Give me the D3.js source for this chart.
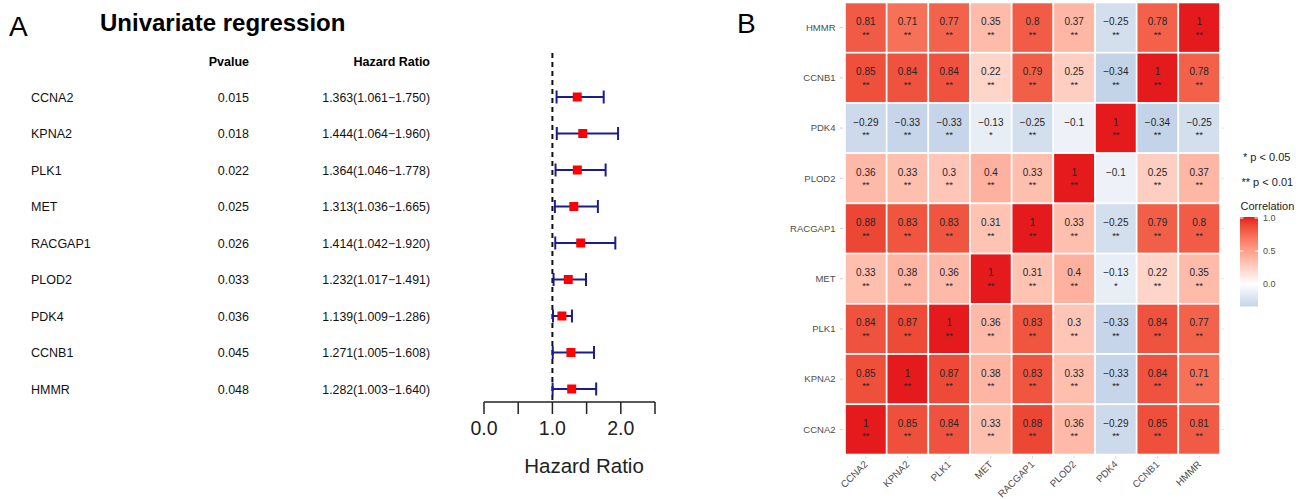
<!DOCTYPE html>
<html>
<head>
<meta charset="utf-8">
<script src="https://cdn.jsdelivr.net/npm/d3@7/dist/d3.min.js"></script>
<style>
  html, body { margin: 0; padding: 0; background: #fff; }
  svg { display: block; font-family: "Liberation Sans", Arial, Helvetica, sans-serif; }
</style>
</head>
<body>
<svg id="chart" width="1308" height="499"></svg>
<script>
// ---------- Panel A data ----------
const genes = ["CCNA2", "KPNA2", "PLK1", "MET", "RACGAP1", "PLOD2", "PDK4", "CCNB1", "HMMR"];
const pvalues = ["0.015", "0.018", "0.022", "0.025", "0.026", "0.033", "0.036", "0.045", "0.048"];
const hr = [1.363, 1.444, 1.364, 1.313, 1.414, 1.232, 1.139, 1.271, 1.282];
const hrLow = [1.061, 1.064, 1.046, 1.036, 1.042, 1.017, 1.009, 1.005, 1.003];
const hrHigh = [1.750, 1.960, 1.778, 1.665, 1.920, 1.491, 1.286, 1.608, 1.640];
const hrTicks = [0, 0.5, 1, 1.5, 2, 2.5];
const hrTickLabels = ["0.0", "", "1.0", "", "2.0", ""];

// ---------- Panel B data ----------
const corrCols = ["CCNA2", "KPNA2", "PLK1", "MET", "RACGAP1", "PLOD2", "PDK4", "CCNB1", "HMMR"];
const corrRows = ["HMMR", "CCNB1", "PDK4", "PLOD2", "RACGAP1", "MET", "PLK1", "KPNA2", "CCNA2"]; // top to bottom
const corrValues = [
  [0.81, 0.71, 0.77, 0.35, 0.8, 0.37, -0.25, 0.78, 1],
  [0.85, 0.84, 0.84, 0.22, 0.79, 0.25, -0.34, 1, 0.78],
  [-0.29, -0.33, -0.33, -0.13, -0.25, -0.1, 1, -0.34, -0.25],
  [0.36, 0.33, 0.3, 0.4, 0.33, 1, -0.1, 0.25, 0.37],
  [0.88, 0.83, 0.83, 0.31, 1, 0.33, -0.25, 0.79, 0.8],
  [0.33, 0.38, 0.36, 1, 0.31, 0.4, -0.13, 0.22, 0.35],
  [0.84, 0.87, 1, 0.36, 0.83, 0.3, -0.33, 0.84, 0.77],
  [0.85, 1, 0.87, 0.38, 0.83, 0.33, -0.33, 0.84, 0.71],
  [1, 0.85, 0.84, 0.33, 0.88, 0.36, -0.29, 0.85, 0.81]
];
const corrSig = [
  ["**", "**", "**", "**", "**", "**", "**", "**", "**"],
  ["**", "**", "**", "**", "**", "**", "**", "**", "**"],
  ["**", "**", "**", "*", "**", "", "**", "**", "**"],
  ["**", "**", "**", "**", "**", "**", "", "**", "**"],
  ["**", "**", "**", "**", "**", "**", "**", "**", "**"],
  ["**", "**", "**", "**", "**", "**", "*", "**", "**"],
  ["**", "**", "**", "**", "**", "**", "**", "**", "**"],
  ["**", "**", "**", "**", "**", "**", "**", "**", "**"],
  ["**", "**", "**", "**", "**", "**", "**", "**", "**"]
];
const legendTicks = [0, 0.5, 1];
const sigNotes = ["* p < 0.05", "** p < 0.01"];

const svg = d3.select("#chart");
const fmtNum = v => (v < 0 ? "\u2212" : "") + String(Math.abs(v));

// ================= Panel A =================
const gA = svg.append("g");
gA.append("text").attr("x", 9).attr("y", 36).attr("font-size", 28).text("A");
gA.append("text").attr("x", 100).attr("y", 30.5).attr("font-size", 24).attr("font-weight", "bold").text("Univariate regression");

const yA = d3.scalePoint().domain(genes).range([97, 389]);
const xA = d3.scaleLinear().domain([0, 2.5]).range([484, 655]);

gA.append("text").attr("x", 249).attr("y", 65.5).attr("text-anchor", "end")
  .attr("font-size", 12.5).attr("font-weight", "bold").text("Pvalue");
gA.append("text").attr("x", 430).attr("y", 65.5).attr("text-anchor", "end")
  .attr("font-size", 12.5).attr("font-weight", "bold").text("Hazard Ratio");

genes.forEach((g, i) => {
  const y = yA(g) + 4.5;
  gA.append("text").attr("x", 31).attr("y", y).attr("font-size", 12.5).attr("fill", "#111").text(g);
  gA.append("text").attr("x", 249).attr("y", y).attr("text-anchor", "end").attr("font-size", 12.5).attr("fill", "#111").text(pvalues[i]);
  gA.append("text").attr("x", 430).attr("y", y).attr("text-anchor", "end").attr("font-size", 12.3).attr("fill", "#111")
    .text(hr[i].toFixed(3) + "(" + hrLow[i].toFixed(3) + "\u2212" + hrHigh[i].toFixed(3) + ")");
});

// reference dashed line
gA.append("line").attr("x1", xA(1)).attr("x2", xA(1)).attr("y1", 53).attr("y2", 401)
  .attr("stroke", "#111").attr("stroke-width", 2).attr("stroke-dasharray", "5,4");

const navy = "#1c1c8f";
genes.forEach((g, i) => {
  const y = yA(g);
  gA.append("line").attr("x1", xA(hrLow[i])).attr("x2", xA(hrHigh[i])).attr("y1", y).attr("y2", y)
    .attr("stroke", navy).attr("stroke-width", 2);
  [hrLow[i], hrHigh[i]].forEach(v => {
    gA.append("line").attr("x1", xA(v)).attr("x2", xA(v)).attr("y1", y - 6.5).attr("y2", y + 6.5)
      .attr("stroke", navy).attr("stroke-width", 2);
  });
  gA.append("rect").attr("x", xA(hr[i]) - 4.5).attr("y", y - 4.5).attr("width", 9).attr("height", 9).attr("fill", "#ff0000");
});

// axis
const axA = gA.append("g").attr("transform", "translate(0,402)");
axA.append("line").attr("x1", xA(0)).attr("x2", xA(2.5)).attr("stroke", "#222").attr("stroke-width", 1.5);
hrTicks.forEach((t, i) => {
  axA.append("line").attr("x1", xA(t)).attr("x2", xA(t)).attr("y1", 0).attr("y2", 12).attr("stroke", "#222").attr("stroke-width", 1.5);
  if (hrTickLabels[i]) axA.append("text").attr("x", xA(t)).attr("y", 33).attr("text-anchor", "middle")
    .attr("font-size", 19.5).attr("fill", "#222").text(hrTickLabels[i]);
});
gA.append("text").attr("x", 584).attr("y", 473).attr("text-anchor", "middle").attr("font-size", 20.5).attr("fill", "#222").text("Hazard Ratio");

// ================= Panel B =================
const gB = svg.append("g");
gB.append("text").attr("x", 737).attr("y", 33).attr("font-size", 28).text("B");

const xB = d3.scaleBand().domain(corrCols).range([845, 1220]);
const yB = d3.scaleBand().domain(corrRows).range([2.5, 454.5]);
const color = d3.scaleLinear().domain([-1, 0, 1]).range(["#4986bc", "#ffffff", "#e41a1c"]).interpolate(d3.interpolateLab);

corrRows.forEach((r, i) => {
  corrCols.forEach((c, j) => {
    const v = corrValues[i][j];
    const x = xB(c), y = yB(r);
    gB.append("rect").attr("x", x).attr("y", y).attr("width", xB.bandwidth()).attr("height", yB.bandwidth())
      .attr("fill", color(v)).attr("stroke", "#fff").attr("stroke-width", 1.6);
    const cx = x + xB.bandwidth() / 2, cy = y + yB.bandwidth() / 2;
    gB.append("text").attr("x", cx).attr("y", cy - 2.5).attr("text-anchor", "middle")
      .attr("font-size", 10).attr("fill", "#262626").text(fmtNum(v));
    if (corrSig[i][j]) gB.append("text").attr("x", cx).attr("y", cy + 10).attr("text-anchor", "middle")
      .attr("font-size", 9.5).attr("fill", "#262626").text(corrSig[i][j]);
  });
});

// y axis labels
corrRows.forEach(r => {
  const cy = yB(r) + yB.bandwidth() / 2;
  gB.append("line").attr("x1", 840).attr("x2", 843).attr("y1", cy).attr("y2", cy).attr("stroke", "#cfcfcf").attr("stroke-width", 1);
  gB.append("text").attr("x", 835.5).attr("y", cy + 3.3).attr("text-anchor", "end").attr("font-size", 9.5).attr("fill", "#4d4d4d").text(r);
});
// right side faint ticks
corrRows.forEach(r => {
  const cy = yB(r) + yB.bandwidth() / 2;
  gB.append("line").attr("x1", 1221).attr("x2", 1224).attr("y1", cy).attr("y2", cy).attr("stroke", "#e6e6e6").attr("stroke-width", 1);
});
// x axis labels
corrCols.forEach(c => {
  const cx = xB(c) + xB.bandwidth() / 2;
  gB.append("line").attr("x1", cx).attr("x2", cx).attr("y1", 456).attr("y2", 458.5).attr("stroke", "#d9d9d9").attr("stroke-width", 1);
  gB.append("text").attr("transform", `translate(${cx + 2.5},${465}) rotate(-45)`).attr("text-anchor", "end")
    .attr("font-size", 9.8).attr("fill", "#4d4d4d").text(c);
});

// significance notes
gB.append("text").attr("x", 1243).attr("y", 161).attr("font-size", 11).attr("fill", "#222").text(sigNotes[0]);
gB.append("text").attr("x", 1241.5).attr("y", 186).attr("font-size", 11).attr("fill", "#222").text(sigNotes[1]);

// color legend
gB.append("text").attr("x", 1240.5).attr("y", 209.5).attr("font-size", 11).attr("fill", "#222").text("Correlation");
const yL = d3.scaleLinear().domain([0, 1]).range([284, 218]);
const vmin = d3.min(corrValues.flat()), vmax = d3.max(corrValues.flat());
const defs = svg.append("defs");
const grad = defs.append("linearGradient").attr("id", "corrGrad").attr("x1", 0).attr("x2", 0).attr("y1", 1).attr("y2", 0);
d3.range(0, 1.0001, 0.05).forEach(t => {
  const v = vmin + t * (vmax - vmin);
  grad.append("stop").attr("offset", t).attr("stop-color", color(v));
});
gB.append("rect").attr("x", 1240).attr("y", yL(vmax) - 1).attr("width", 18).attr("height", yL(vmin) - yL(vmax) + 1)
  .attr("fill", "url(#corrGrad)");
legendTicks.forEach(t => {
  gB.append("line").attr("x1", 1240).attr("x2", 1243.5).attr("y1", yL(t)).attr("y2", yL(t)).attr("stroke", "#fff").attr("stroke-width", 1);
  gB.append("line").attr("x1", 1254.5).attr("x2", 1258).attr("y1", yL(t)).attr("y2", yL(t)).attr("stroke", "#fff").attr("stroke-width", 1);
  gB.append("text").attr("x", 1263).attr("y", yL(t) + 3.2).attr("font-size", 9).attr("fill", "#4d4d4d").text(t.toFixed(1));
});
</script>
</body>
</html>
